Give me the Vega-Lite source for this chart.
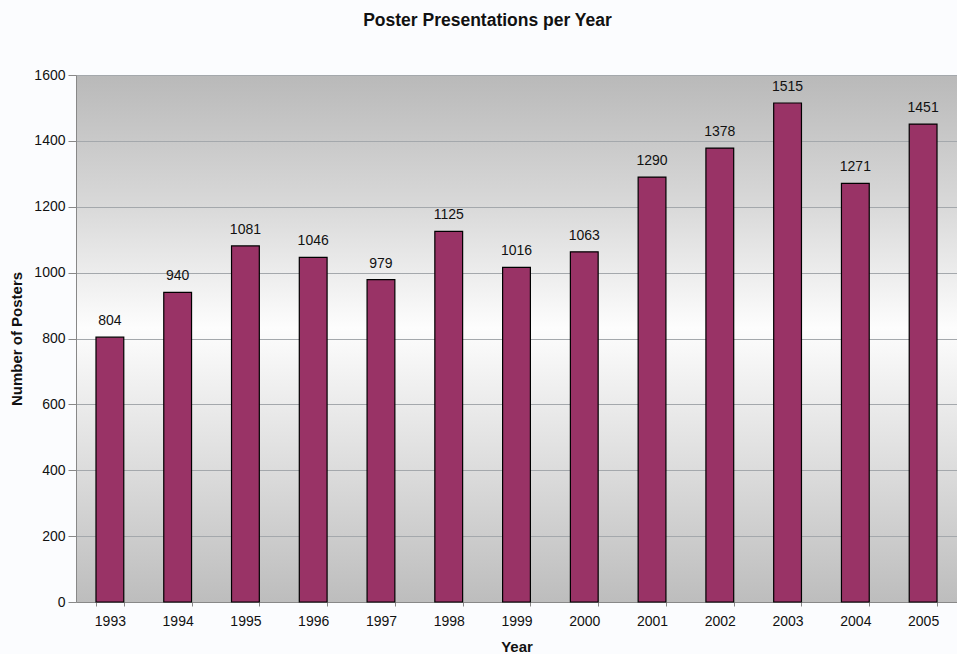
{
  "$schema": "https://vega.github.io/schema/vega-lite/v6.json",
  "autosize": {"type": "none"},
  "width": 881,
  "height": 527,
  "padding": {"left": 76, "top": 75, "right": 0, "bottom": 52},
  "background": "#fbfcfe",
  "title": {
    "text": "Poster Presentations per Year",
    "font": "Liberation Sans",
    "fontSize": 17.5,
    "fontWeight": "bold",
    "color": "#111111",
    "anchor": "middle",
    "dx": -29,
    "offset": 39
  },
  "config": {
    "view": {
      "stroke": null,
      "fill": {
        "gradient": "linear",
        "x1": 0, "y1": 0, "x2": 0, "y2": 1,
        "stops": [
          {"offset": 0, "color": "#b9b9b9"},
          {"offset": 0.25, "color": "#d9d9d9"},
          {"offset": 0.48, "color": "#fdfdfd"},
          {"offset": 0.75, "color": "#dcdcdc"},
          {"offset": 1, "color": "#bdbdbd"}
        ]
      }
    },
    "axis": {
      "labelFont": "Liberation Sans",
      "labelFontSize": 14,
      "labelColor": "#111111",
      "titleFont": "Liberation Sans",
      "titleFontSize": 15,
      "titleFontWeight": "bold",
      "titleColor": "#111111"
    }
  },
  "data": {
    "values": [
      {"Year": "1993", "Posters": 804},
      {"Year": "1994", "Posters": 940},
      {"Year": "1995", "Posters": 1081},
      {"Year": "1996", "Posters": 1046},
      {"Year": "1997", "Posters": 979},
      {"Year": "1998", "Posters": 1125},
      {"Year": "1999", "Posters": 1016},
      {"Year": "2000", "Posters": 1063},
      {"Year": "2001", "Posters": 1290},
      {"Year": "2002", "Posters": 1378},
      {"Year": "2003", "Posters": 1515},
      {"Year": "2004", "Posters": 1271},
      {"Year": "2005", "Posters": 1451}
    ]
  },
  "encoding": {
    "x": {
      "field": "Year",
      "type": "ordinal",
      "scale": {"paddingInner": 0.59, "paddingOuter": 0.295},
      "axis": {
        "title": "Year",
        "labelAngle": 0,
        "tickBand": "extent",
        "tickSize": 4,
        "tickColor": "#888888",
        "domainColor": "#888888",
        "labelPadding": 8,
        "titlePadding": 11
      }
    },
    "y": {
      "field": "Posters",
      "type": "quantitative",
      "scale": {"domain": [0, 1600], "nice": false},
      "axis": {
        "title": "Number of Posters",
        "format": "d",
        "values": [0, 200, 400, 600, 800, 1000, 1200, 1400, 1600],
        "tickSize": 8,
        "tickColor": "#888888",
        "domainColor": "#888888",
        "gridColor": "#a4a8ac",
        "gridOpacity": 1,
        "labelPadding": 3,
        "titlePadding": 9
      }
    }
  },
  "layer": [
    {
      "mark": {"type": "bar", "color": "#993366", "stroke": "#000000", "strokeWidth": 1.2}
    },
    {
      "mark": {"type": "text", "dy": -16, "font": "Liberation Sans", "fontSize": 14, "color": "#111111", "baseline": "middle"},
      "encoding": {"text": {"field": "Posters", "type": "quantitative"}}
    }
  ]
}
